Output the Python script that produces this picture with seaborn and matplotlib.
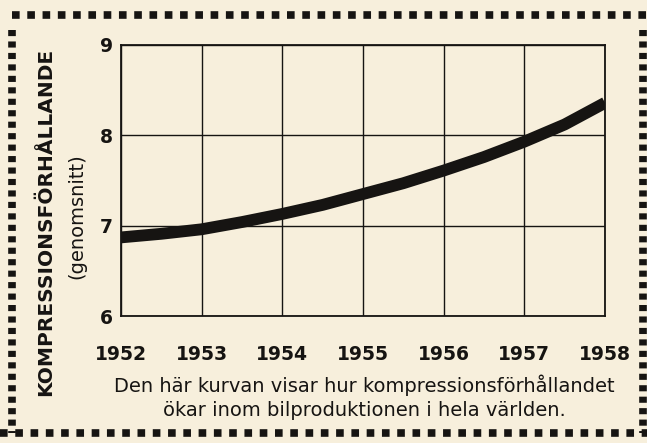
import numpy as np
import pandas as pd
import matplotlib
matplotlib.use("Agg")
import matplotlib.pyplot as plt
from matplotlib.lines import Line2D
import seaborn as sns

# Values (half-year steps)
years = [1952, 1952.5, 1953, 1953.5, 1954, 1954.5, 1955,
         1955.5, 1956, 1956.5, 1957, 1957.5, 1958]
ratio = [6.87, 6.91, 6.96, 7.04, 7.13, 7.23, 7.35,
         7.47, 7.61, 7.76, 7.93, 8.12, 8.36]
tick_years = [1952, 1953, 1954, 1955, 1956, 1957, 1958]
tick_ratio = [6, 7, 8, 9]

ylabel_main = "KOMPRESSIONSFÖRHÅLLANDE"
ylabel_sub = "(genomsnitt)"
caption_1 = "Den här kurvan visar hur kompressionsförhållandet"
caption_2 = "ökar inom bilproduktionen i hela världen."

bg = "#f7efdc"
ink = "#161412"

sns.set_theme(style="white")
plt.rcParams['font.family'] = ['DejaVu Sans']

df = pd.DataFrame({"year": years, "ratio": ratio})

W, H = 647, 443
fig = plt.figure(figsize=(W / 100, H / 100), dpi=100, facecolor=bg)
ax = fig.add_axes([121 / W, 1 - 316 / H, (605 - 121) / W, (316 - 45) / H])
ax.set_facecolor(bg)

sns.lineplot(data=df, x="year", y="ratio", ax=ax, color=ink, linewidth=8.5,
             solid_capstyle="butt", solid_joinstyle="round", zorder=5)

ax.set_xlim(1952, 1958)
ax.set_ylim(6, 9)
ax.set_xticks(tick_years)
ax.set_xticklabels([str(y) for y in tick_years], fontweight="heavy", fontsize=13.5, color=ink)
ax.set_yticks(tick_ratio)
ax.set_yticklabels([str(v) for v in tick_ratio], fontweight="heavy", fontsize=13.5, color=ink)
ax.tick_params(axis="x", length=0, pad=21)
ax.tick_params(axis="y", length=0, pad=6)
ax.set_xlabel("")
ax.set_ylabel("")
ax.grid(True, color=ink, linewidth=1.0)
for s in ax.spines.values():
    s.set_visible(True)
    s.set_color(ink)
    s.set_linewidth(1.3)

# axis titles and caption
fig.text(46 / W, 1 - 222 / H, ylabel_main, rotation=90, ha="center", va="center",
         fontsize=14.5, fontweight="heavy", color=ink)
fig.text(77 / W, 1 - 216 / H, ylabel_sub, rotation=90, ha="center", va="center",
         fontsize=14, color=ink)
fig.text(364 / W, 1 - 385 / H, caption_1, ha="center", va="center", fontsize=14, color=ink)
fig.text(364 / W, 1 - 411 / H, caption_2, ha="center", va="center", fontsize=14, color=ink)

# dotted frame
def frame_line(x0, y0, x1, y1, dashes):
    fig.add_artist(Line2D([x0 / W, x1 / W], [1 - y0 / H, 1 - y1 / H],
                          transform=fig.transFigure, color=ink, linewidth=5.5,
                          dashes=dashes, solid_capstyle="butt", dash_capstyle="butt"))

frame_line(12, 15, 647, 15, (1.0, 1.0))
frame_line(0, 433, 647, 433, (1.0, 1.0))
frame_line(12, 30, 12, 433, (0.8, 0.7))
frame_line(643, 30, 643, 433, (0.8, 0.7))

fig.savefig("out.png", dpi=100, facecolor=bg)
